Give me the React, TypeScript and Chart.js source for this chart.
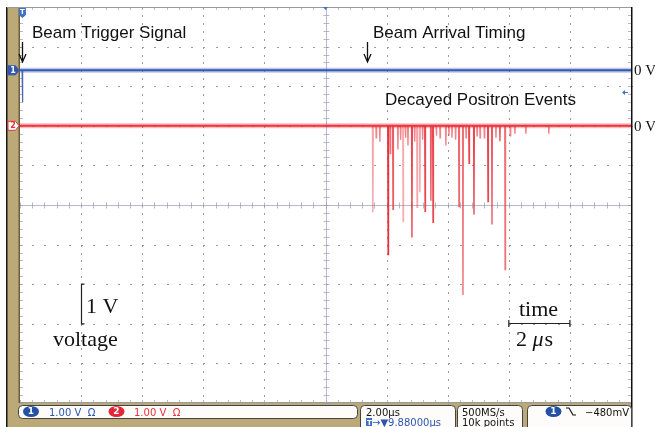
import React, { useEffect, useRef } from "react";
import { Chart, registerables } from "chart.js";

Chart.register(...registerables);

// ---- data (time in µs, 2 µs/div; vertical in V, 1 V/div) ----
const timeMin = 0;
const timeMax = 20;
const voltMin = -5;
const voltMax = 5;
const ch1Offset = 3.4; // divisions above centre (0 V of channel 1)
const ch2Offset = 2.0; // divisions above centre (0 V of channel 2)

const triggerTimes = [0.08];
const triggerDepths = [-0.8];

const eventTimes = [
  11.55, 11.66, 11.78, 12.05, 12.12, 12.21, 12.37, 12.46, 12.54, 12.62, 12.7, 12.83, 12.92, 13.0,
  13.09, 13.18, 13.26, 13.45, 13.52, 13.63, 13.75, 13.94, 14.04, 14.14, 14.26, 14.37, 14.5, 14.6,
  14.7, 14.86, 14.96, 15.06, 15.2, 15.32, 15.45, 15.58, 15.71, 15.88, 16.05, 16.2, 16.56, 17.31,
];
const eventDepths = [
  -2.19, -0.3, -0.4, -3.25, -0.7, -2.11, -0.6, -0.35, -2.42, -0.3, -0.5, -2.82, -0.4, -2.06,
  -1.68, -0.35, -2.16, -1.89, -2.44, -0.25, -0.3, -0.5, -0.25, -0.3, -0.35, -2.04, -4.27, -0.3,
  -0.95, -2.24, -0.25, -0.3, -0.3, -1.91, -2.49, -0.3, -0.39, -3.63, -0.25, -0.2, -0.2, -0.2,
];
const eventIntensity = [
  0.45, 0.6, 0.6, 1, 0.7, 0.8, 0.6, 0.6, 0.4, 0.6, 0.6, 0.9, 0.6, 0.45,
  0.45, 0.6, 0.9, 0.8, 0.9, 0.6, 0.6, 0.6, 0.6, 0.6, 0.6, 0.75, 0.7, 0.6,
  0.9, 0.9, 0.6, 0.6, 0.6, 0.9, 0.8, 0.6, 0.8, 0.7, 0.6, 0.6, 0.6, 0.6,
];

const beamArrivalTime = 11.36;

const annotationTexts = {
  trigger: "Beam Trigger Signal",
  arrival: "Beam Arrival Timing",
  events: "Decayed Positron Events",
  zero: "0 V",
  volt: "1 V",
  voltage: "voltage",
  time: "time",
};
const statusTexts = {
  ch1: "1.00 V  Ω",
  ch2: "1.00 V  Ω",
  timeDiv: "2.00µs",
  delay: "→▼9.88000µs",
  rate: "500MS/s",
  points: "10k points",
  level: "−480mV",
};

const BLUE = "#3257b0";
const RED = "#e8333d";
const TAN = "#bba978";

function spikePoints(times: number[], depths: number[], offset: number) {
  const d = 0.012;
  const pts: { x: number; y: number }[] = [];
  times.forEach((t, i) => {
    pts.push({ x: t - d, y: offset });
    pts.push({ x: t, y: offset + depths[i] });
    pts.push({ x: t + d, y: offset });
  });
  return pts;
}

function redAlpha(a: number) {
  return `rgba(232,51,61,${a})`;
}

const scopePlugin = {
  id: "scope",
  beforeDraw(chart: any) {
    const { ctx, chartArea: a, width, height } = chart;
    ctx.save();
    ctx.fillStyle = "#ffffff";
    ctx.fillRect(0, 0, width, height);
    ctx.fillStyle = TAN;
    ctx.fillRect(7, a.top, a.left - 7, height - a.top);
    ctx.fillRect(7, a.bottom, a.right - 7, height - a.bottom);
    ctx.fillStyle = "#1a1a1a";
    ctx.fillRect(6, a.top, 1.5, height - a.top);
    ctx.fillStyle = "#6e5d3c";
    ctx.fillRect(a.left - 1.5, a.top, 1.5, a.bottom - a.top);
    ctx.restore();
  },
  beforeDatasetsDraw(chart: any) {
    const { ctx, chartArea: a, scales } = chart;
    const xs = scales.x;
    const ys = scales.y;
    const cxv = (timeMin + timeMax) / 2;
    const cx = Math.round(xs.getPixelForValue(cxv)) + 0.5;
    const cy = Math.round(ys.getPixelForValue(0)) + 0.5;
    ctx.save();
    // dotted graticule
    ctx.fillStyle = "#9a9aa6";
    for (let t = timeMin + 2; t < timeMax - 1e-6; t += 2) {
      if (Math.abs(t - cxv) < 1e-6) continue;
      const px = Math.round(xs.getPixelForValue(t));
      for (let v = voltMin; v <= voltMax + 1e-6; v += 0.2) {
        const py = Math.round(ys.getPixelForValue(v));
        ctx.fillRect(px, py, 1, 2);
      }
    }
    for (let v = voltMin + 1; v < voltMax - 1e-6; v += 1) {
      if (Math.abs(v) < 1e-6) continue;
      const py = Math.round(ys.getPixelForValue(v));
      for (let t = timeMin; t <= timeMax + 1e-6; t += 0.4) {
        const px = Math.round(xs.getPixelForValue(t));
        ctx.fillRect(px, py, 2, 1);
      }
    }
    // centre cross with minor ticks
    ctx.strokeStyle = "rgba(150,156,185,0.7)";
    ctx.lineWidth = 1;
    ctx.beginPath();
    ctx.moveTo(a.left, cy);
    ctx.lineTo(a.right, cy);
    ctx.moveTo(cx, a.top);
    ctx.lineTo(cx, a.bottom);
    for (let t = timeMin; t <= timeMax + 1e-6; t += 0.4) {
      const px = Math.round(xs.getPixelForValue(t)) + 0.5;
      ctx.moveTo(px, cy - 3);
      ctx.lineTo(px, cy + 3);
      ctx.moveTo(px, a.top);
      ctx.lineTo(px, a.top + 3);
      ctx.moveTo(px, a.bottom);
      ctx.lineTo(px, a.bottom - 3);
    }
    for (let v = voltMin; v <= voltMax + 1e-6; v += 0.2) {
      const py = Math.round(ys.getPixelForValue(v)) + 0.5;
      ctx.moveTo(cx - 3, py);
      ctx.lineTo(cx + 3, py);
      ctx.moveTo(a.left, py);
      ctx.lineTo(a.left + 3, py);
      ctx.moveTo(a.right, py);
      ctx.lineTo(a.right - 3, py);
    }
    ctx.stroke();
    // top and bottom frame
    ctx.strokeStyle = "#9a9a9a";
    ctx.beginPath();
    ctx.moveTo(7, a.top + 0.5);
    ctx.lineTo(a.right, a.top + 0.5);
    ctx.moveTo(a.left, a.bottom - 0.5);
    ctx.lineTo(a.right, a.bottom - 0.5);
    ctx.stroke();
    ctx.restore();
  },
  afterDraw(chart: any) {
    const { ctx, chartArea: a, scales, height } = chart;
    const xs = scales.x;
    const ys = scales.y;
    ctx.save();
    // right frame
    ctx.fillStyle = "#111";
    ctx.fillRect(a.right, a.top, 1.5, height - a.top);

    // channel markers on the left
    const marker = (y: number, label: string, fill: string, stroke: string, txt: string) => {
      const x0 = 8;
      ctx.beginPath();
      ctx.moveTo(x0, y - 4.5);
      ctx.lineTo(x0 + 7.5, y - 4.5);
      ctx.lineTo(x0 + 11, y);
      ctx.lineTo(x0 + 7.5, y + 4.5);
      ctx.lineTo(x0, y + 4.5);
      ctx.closePath();
      ctx.fillStyle = fill;
      ctx.fill();
      ctx.strokeStyle = stroke;
      ctx.lineWidth = 1;
      ctx.stroke();
      ctx.fillStyle = txt;
      ctx.font = "bold 8px 'DejaVu Sans'";
      ctx.textAlign = "center";
      ctx.textBaseline = "middle";
      ctx.fillText(label, x0 + 5, y + 0.5);
    };
    marker(ys.getPixelForValue(ch1Offset), "1", BLUE, BLUE, "#fff");
    marker(ys.getPixelForValue(ch2Offset), "2", "#fff", RED, RED);

    // trigger position marker at the top
    const tx = xs.getPixelForValue(triggerTimes[0]);
    ctx.fillStyle = "#3d72c4";
    ctx.beginPath();
    ctx.moveTo(tx - 3.5, a.top + 1);
    ctx.lineTo(tx + 3.5, a.top + 1);
    ctx.lineTo(tx + 3.5, a.top + 8);
    ctx.lineTo(tx, a.top + 11);
    ctx.lineTo(tx - 3.5, a.top + 8);
    ctx.closePath();
    ctx.fill();
    ctx.fillStyle = "#fff";
    ctx.font = "bold 7px 'DejaVu Sans'";
    ctx.textAlign = "center";
    ctx.textBaseline = "middle";
    ctx.fillText("T", tx, a.top + 5);

    // centre marker at top
    const mx = xs.getPixelForValue((timeMin + timeMax) / 2);
    ctx.fillStyle = "#3d72c4";
    ctx.beginPath();
    ctx.moveTo(mx - 2.5, a.top);
    ctx.lineTo(mx + 2.5, a.top);
    ctx.lineTo(mx, a.top + 3);
    ctx.closePath();
    ctx.fill();

    // small level arrow on the right
    ctx.strokeStyle = "#3d72c4";
    ctx.fillStyle = "#3d72c4";
    ctx.lineWidth = 1;
    ctx.beginPath();
    ctx.moveTo(623, 92.5);
    ctx.lineTo(628, 92.5);
    ctx.stroke();
    ctx.beginPath();
    ctx.moveTo(622, 92.5);
    ctx.lineTo(625, 90);
    ctx.lineTo(625, 95);
    ctx.closePath();
    ctx.fill();

    // annotations
    ctx.fillStyle = "#111";
    ctx.textAlign = "left";
    ctx.textBaseline = "alphabetic";
    ctx.font = "17px 'Liberation Sans'";
    ctx.fillText(annotationTexts.trigger, 32, 38);
    ctx.fillText(annotationTexts.arrival, 373, 38);
    ctx.fillText(annotationTexts.events, 385, 105);

    const arrow = (x: number) => {
      ctx.strokeStyle = "#111";
      ctx.lineWidth = 1.3;
      ctx.beginPath();
      ctx.moveTo(x, 42);
      ctx.lineTo(x, 62);
      ctx.moveTo(x - 3.5, 54);
      ctx.lineTo(x, 62);
      ctx.lineTo(x + 3.5, 54);
      ctx.stroke();
    };
    arrow(Math.round(tx) + 0.5);
    arrow(Math.round(xs.getPixelForValue(beamArrivalTime)) + 0.5);

    ctx.font = "15px 'Liberation Serif'";
    ctx.textBaseline = "middle";
    ctx.fillText(annotationTexts.zero, a.right + 3, ys.getPixelForValue(ch1Offset) + 1);
    ctx.fillText(annotationTexts.zero, a.right + 3, ys.getPixelForValue(ch2Offset) + 1);

    // 1 V scale bar
    ctx.textBaseline = "alphabetic";
    ctx.strokeStyle = "#222";
    ctx.lineWidth = 1.2;
    const y1 = ys.getPixelForValue(-2);
    const y2 = ys.getPixelForValue(-3);
    ctx.beginPath();
    ctx.moveTo(84.5, y1);
    ctx.lineTo(81.5, y1);
    ctx.lineTo(81.5, y2);
    ctx.lineTo(84.5, y2);
    ctx.stroke();
    ctx.font = "22px 'Liberation Serif'";
    ctx.fillText(annotationTexts.volt, 86, 313);
    ctx.fillText(annotationTexts.voltage, 53, 346);

    // time scale bar
    const xa = xs.getPixelForValue(16);
    const xb = xs.getPixelForValue(18);
    ctx.beginPath();
    ctx.moveTo(xa, 320);
    ctx.lineTo(xa, 327);
    ctx.moveTo(xa, 323.5);
    ctx.lineTo(xb, 323.5);
    ctx.moveTo(xb, 320);
    ctx.lineTo(xb, 327);
    ctx.stroke();
    ctx.fillText(annotationTexts.time, 519, 316);
    ctx.fillText("2 ", 516, 346);
    const w2 = ctx.measureText("2 ").width;
    ctx.font = "italic 22px 'Liberation Serif'";
    ctx.fillText("μ", 516 + w2, 346);
    const wm = ctx.measureText("μ").width;
    ctx.font = "22px 'Liberation Serif'";
    ctx.fillText("s", 516 + w2 + wm + 1, 346);

    // status bar
    const box = (x: number, y: number, w: number, h: number) => {
      ctx.beginPath();
      (ctx as any).roundRect(x, y, w, h, 4);
      ctx.fillStyle = "#fdfcfa";
      ctx.fill();
      ctx.strokeStyle = "#444";
      ctx.lineWidth = 1;
      ctx.stroke();
    };
    box(18.5, 405.5, 339, 13);
    box(360.5, 405.5, 95, 26);
    box(457.5, 405.5, 65, 26);
    box(527.5, 405.5, 104, 26);

    const badge = (cx: number, cy: number, label: string, fill: string) => {
      ctx.beginPath();
      ctx.ellipse(cx, cy, 8, 5.5, 0, 0, Math.PI * 2);
      ctx.fillStyle = fill;
      ctx.fill();
      ctx.fillStyle = "#fff";
      ctx.font = "bold 9px 'DejaVu Sans'";
      ctx.textAlign = "center";
      ctx.textBaseline = "middle";
      ctx.fillText(label, cx, cy + 0.5);
      ctx.textAlign = "left";
      ctx.textBaseline = "alphabetic";
    };
    badge(31, 411.5, "1", "#2451a3");
    badge(116.5, 411.5, "2", "#e0283a");
    badge(553.5, 411.5, "1", "#2451a3");

    ctx.font = "10px 'DejaVu Sans'";
    ctx.fillStyle = "#2d55b0";
    ctx.fillText(statusTexts.ch1, 49, 415.5);
    ctx.fillStyle = RED;
    ctx.fillText(statusTexts.ch2, 134, 415.5);
    ctx.fillStyle = "#111";
    ctx.fillText(statusTexts.timeDiv, 366, 415.5);
    ctx.fillText(statusTexts.rate, 462, 415.5);
    ctx.fillText(statusTexts.points, 462, 426);
    ctx.fillText(statusTexts.level, 585, 415.5);
    // T box + delay
    ctx.fillStyle = "#3d72c4";
    ctx.fillRect(366, 418, 6, 8);
    ctx.fillStyle = "#fff";
    ctx.font = "bold 7px 'DejaVu Sans'";
    ctx.fillText("T", 367, 425);
    ctx.fillStyle = "#2d55b0";
    ctx.font = "10px 'DejaVu Sans'";
    ctx.fillText(statusTexts.delay, 372, 426);
    // falling edge icon
    ctx.strokeStyle = "#111";
    ctx.lineWidth = 1.2;
    ctx.beginPath();
    ctx.moveTo(566, 408);
    ctx.lineTo(569, 408);
    ctx.lineTo(573, 415);
    ctx.lineTo(576, 415);
    ctx.stroke();
    ctx.restore();
  },
};

export default function App() {
  const ref = useRef<HTMLCanvasElement | null>(null);
  useEffect(() => {
    if (!ref.current) return;
    const ch1Spikes = spikePoints(triggerTimes, triggerDepths, ch1Offset);
    const ch2Spikes = spikePoints(eventTimes, eventDepths, ch2Offset);
    const segColor = (intensity: number[], base: string | null) => (c: any) => {
      const i = c.p0DataIndex;
      const k = Math.floor(i / 3);
      if (i % 3 === 2) return "rgba(0,0,0,0)";
      return base ? base : redAlpha(intensity[k]);
    };
    const flat = (off: number) => [
      { x: timeMin, y: off },
      { x: timeMax, y: off },
    ];
    const chart = new Chart(ref.current, {
      type: "line",
      data: {
        datasets: [
          { data: flat(ch1Offset), borderColor: "rgba(60,95,185,0.35)", borderWidth: 5, pointRadius: 0 },
          { data: flat(ch1Offset), borderColor: BLUE, borderWidth: 2, pointRadius: 0 },
          {
            data: ch1Spikes,
            borderColor: BLUE,
            borderWidth: 1.2,
            pointRadius: 0,
            segment: { borderColor: segColor([1], "rgba(50,87,176,0.9)") },
          },
          {
            data: ch2Spikes,
            borderColor: RED,
            borderWidth: 1.4,
            pointRadius: 0,
            segment: { borderColor: segColor(eventIntensity, null) },
          },
          { data: flat(ch2Offset), borderColor: "rgba(235,60,70,0.35)", borderWidth: 5, pointRadius: 0 },
          { data: flat(ch2Offset), borderColor: RED, borderWidth: 2, pointRadius: 0 },
        ],
      },
      options: {
        animation: false,
        responsive: true,
        maintainAspectRatio: false,
        layout: { padding: { left: 20, top: 7, right: 24, bottom: 24 } },
        plugins: { legend: { display: false }, tooltip: { enabled: false } },
        elements: { line: { tension: 0 } },
        scales: {
          x: {
            type: "linear",
            min: timeMin,
            max: timeMax,
            ticks: { display: false, stepSize: 2 },
            grid: { display: false, drawTicks: false },
            border: { display: false },
          },
          y: {
            type: "linear",
            min: voltMin,
            max: voltMax,
            ticks: { display: false, stepSize: 1 },
            grid: { display: false, drawTicks: false },
            border: { display: false },
          },
        },
      },
      plugins: [scopePlugin],
    } as any);
    return () => chart.destroy();
  }, []);
  return (
    <div style={{ position: "fixed", left: 0, top: 0, width: 655, height: 427 }}>
      <canvas ref={ref} />
    </div>
  );
}
